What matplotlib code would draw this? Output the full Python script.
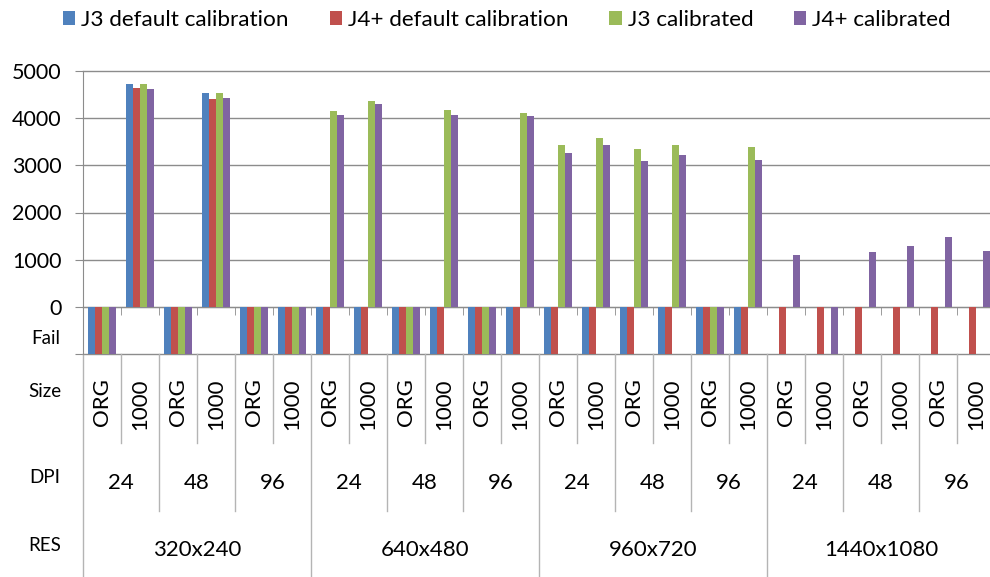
import numpy as np
import matplotlib.pyplot as plt
from matplotlib.patches import Patch

plt.rcParams['font.family'] = ['Lato', 'DejaVu Sans']

FAIL = -1000  # failed runs are drawn down to the bottom line

res_labels = ['320x240', '640x480', '960x720', '1440x1080']
dpi_labels = ['24', '48', '96']
size_labels = ['ORG', '1000']

series_names = ['J3 default calibration', 'J4+ default calibration',
                'J3 calibrated', 'J4+ calibrated']
colors = ['#4F81BD', '#C0504D', '#9BBB59', '#8064A2']

j3_default = [FAIL, 4720, FAIL, 4540, FAIL, FAIL,
              FAIL, FAIL, FAIL, FAIL, FAIL, FAIL,
              FAIL, FAIL, FAIL, FAIL, FAIL, FAIL,
              0, 0, 0, 0, 0, 0]
j4_default = [FAIL, 4630, FAIL, 4410, FAIL, FAIL,
              FAIL, FAIL, FAIL, FAIL, FAIL, FAIL,
              FAIL, FAIL, FAIL, FAIL, FAIL, FAIL,
              FAIL, FAIL, FAIL, FAIL, FAIL, FAIL]
j3_calibrated = [FAIL, 4720, FAIL, 4540, FAIL, FAIL,
                 4150, 4360, FAIL, 4170, FAIL, 4110,
                 3430, 3570, 3350, 3430, FAIL, 3390,
                 0, 0, 0, 0, 0, 0]
j4_calibrated = [FAIL, 4610, FAIL, 4430, FAIL, FAIL,
                 4060, 4290, FAIL, 4060, FAIL, 4040,
                 3260, 3430, 3100, 3210, FAIL, 3120,
                 1090, FAIL, 1160, 1290, 1480, 1180]

series = [j3_default, j4_default, j3_calibrated, j4_calibrated]
n = len(j3_default)
x = np.arange(n)
w = 0.182

fig = plt.figure(figsize=(9.9, 5.77), dpi=100)
ax = fig.add_axes([83 / 990, 223 / 577, 912 / 990, 283 / 577])

for i, (vals, c) in enumerate(zip(series, colors)):
    ax.bar(x + (i - 1.5) * w, vals, w, color=c, zorder=3)

ax.set_xlim(-0.5, n - 0.5)
ax.set_ylim(-1000, 5000)
ax.set_yticks(range(-1000, 5001, 1000))
ax.set_yticklabels([''] + [str(v) for v in range(0, 5001, 1000)])
ax.tick_params(axis='y', direction='out', length=5.5, pad=10,
               color='#8c8c8c', labelsize=15.5)
ax.yaxis.grid(True, color='#8c8c8c', lw=1)
for gl in ax.get_ygridlines():
    gl.set_clip_on(False)

# category axis sits on the zero line
ax.spines['bottom'].set_position(('data', 0))
ax.spines['bottom'].set_color('#8c8c8c')
ax.spines['left'].set_color('#8c8c8c')
ax.spines['top'].set_visible(False)
ax.spines['right'].set_visible(False)
ax.set_xticks([])
ax.set_xticks(np.arange(0.5, n - 1, 1), minor=True)
ax.tick_params(axis='x', which='minor', direction='out', length=5.5,
               color='#8c8c8c', labelbottom=False)
ax.set_axisbelow(True)

ax.text(-0.025, -661, 'Fail', transform=ax.get_yaxis_transform(),
        ha='right', va='center', fontsize=13.5)

# multi-level category labels under the plot
xt = ax.get_xaxis_transform()
y_bottom = {1: -0.3145, 2: -0.555, 3: -0.80}
for b in range(n + 1):
    level = 3 if b % 6 == 0 else (2 if b % 2 == 0 else 1)
    ax.plot([b - 0.5, b - 0.5], [0, y_bottom[level]], transform=xt,
            color='#b4b4b4', lw=1, clip_on=False)

for k in range(n):
    ax.text(k, -0.085, size_labels[k % 2], transform=xt, rotation=90,
            ha='center', va='top', fontsize=16)
for k in range(n // 2):
    ax.text(2 * k + 0.5, -0.456, dpi_labels[k % 3], transform=xt,
            ha='center', va='center', fontsize=16)
for k, r in enumerate(res_labels):
    ax.text(6 * k + 2.5, -0.693, r, transform=xt,
            ha='center', va='center', fontsize=16)

for label, yy in [('Size', -0.134), ('DPI', -0.438), ('RES', -0.675)]:
    ax.text(-0.042, yy, label, transform=ax.transAxes,
            ha='center', va='center', fontsize=13.5)

handles = [Patch(facecolor=c) for c in colors]
fig.legend(handles, series_names, loc='center left',
           bbox_to_anchor=(63 / 990, 1 - 20 / 577), ncol=4, frameon=False,
           fontsize=16.2, handlelength=0.54, handleheight=0.54,
           handletextpad=0.27, columnspacing=1.82, borderpad=0,
           borderaxespad=0)

fig.savefig('out.png', dpi=100)
